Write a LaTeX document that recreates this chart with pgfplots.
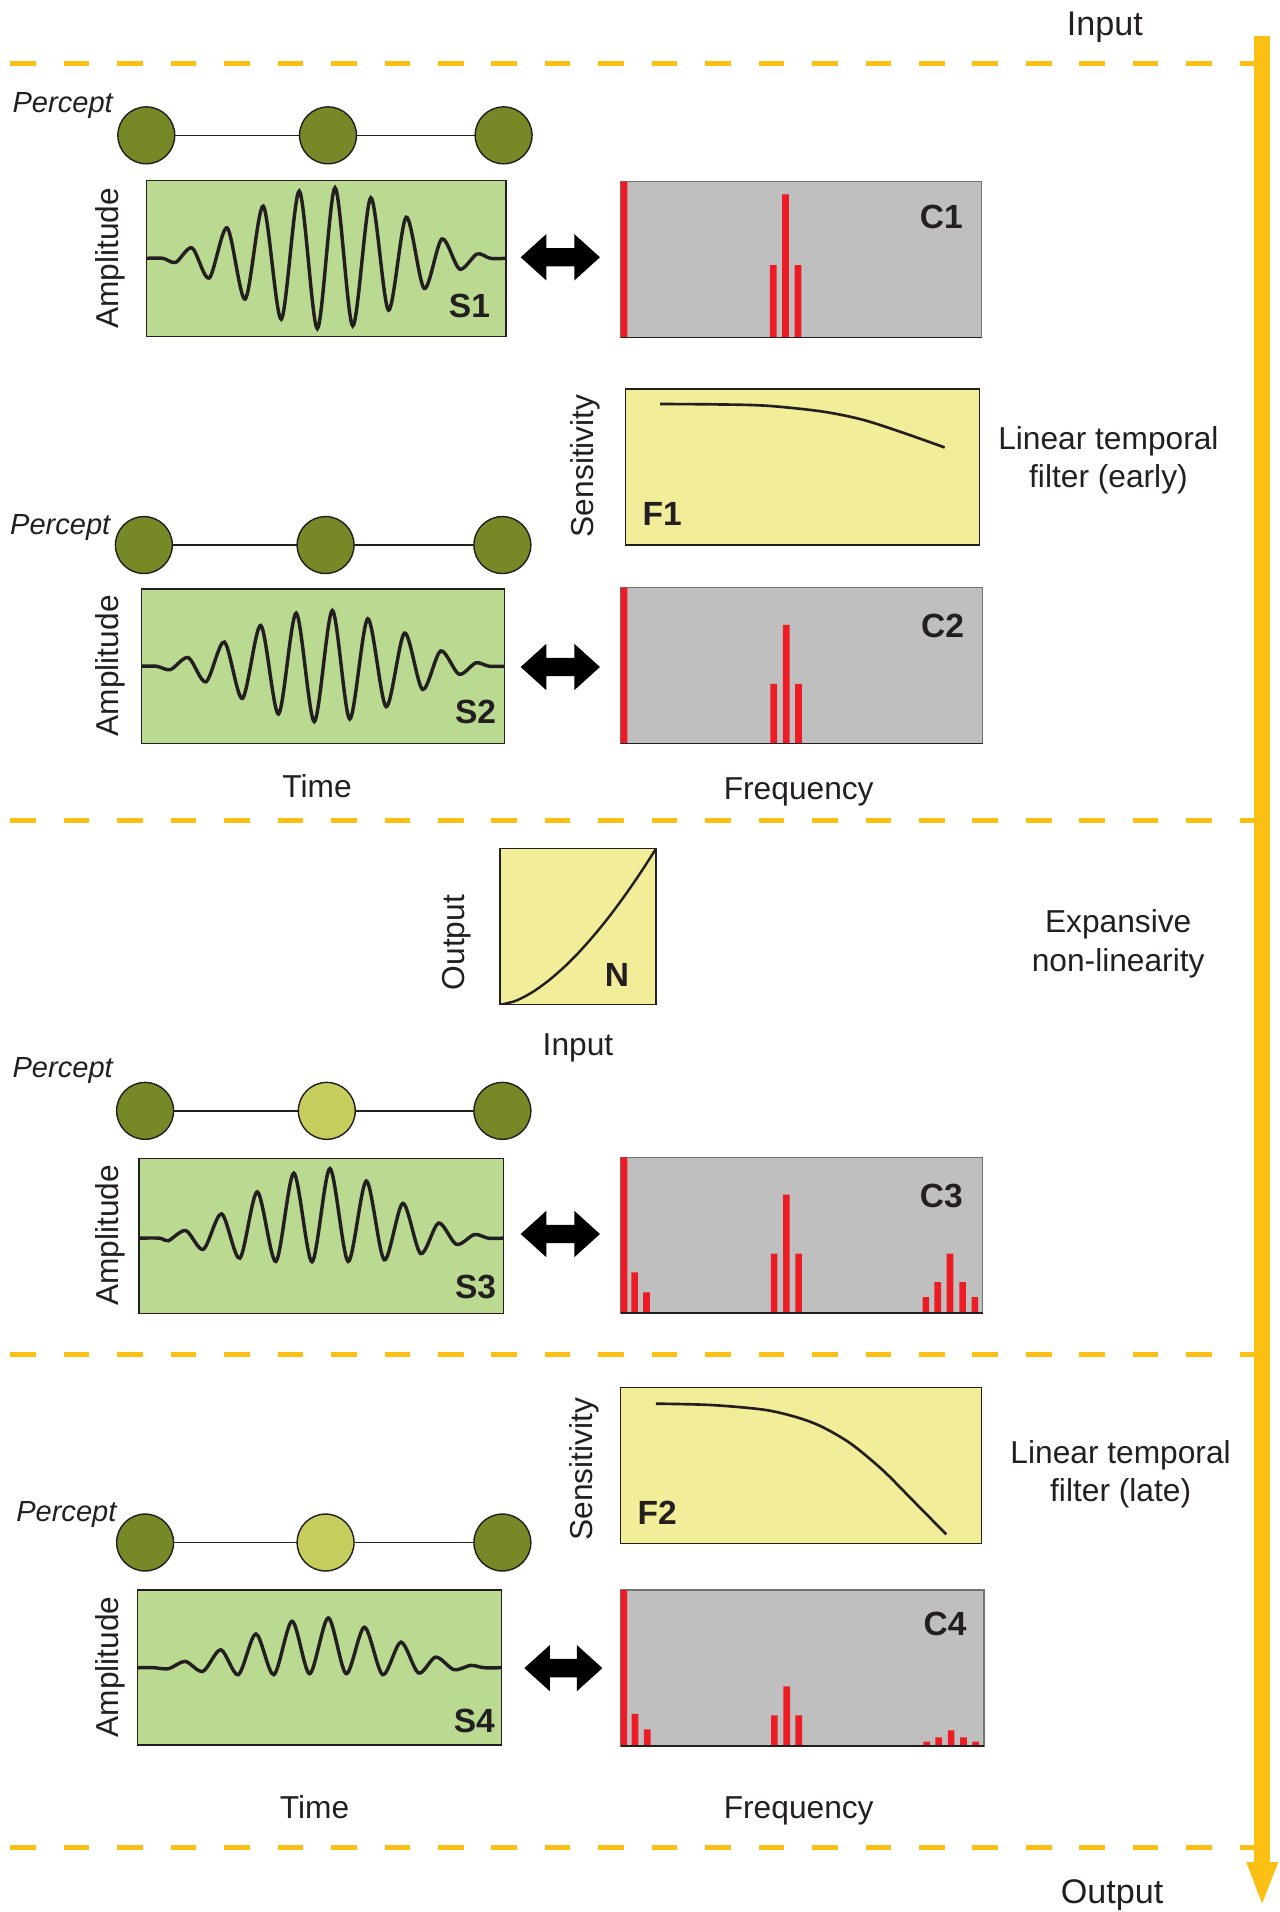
\documentclass[border=0pt]{standalone}
\usepackage{pgfplots}
\pgfplotsset{compat=1.18}
\usepackage{fontspec}
\setmainfont{Liberation Sans}
\definecolor{arrowyellow}{RGB}{252,191,19}
\definecolor{greenbox}{RGB}{186,218,145}
\definecolor{graybox}{RGB}{191,191,191}
\definecolor{yellowbox}{RGB}{242,237,153}
\definecolor{barred}{RGB}{237,28,36}
\definecolor{olive}{RGB}{118,137,38}
\definecolor{lightolive}{RGB}{197,205,93}
\definecolor{textcol}{RGB}{35,31,32}
\newcommand\lab{\fontsize{15.6}{18}\selectfont}
\newcommand\iolab{\fontsize{16.8}{20}\selectfont}
\newcommand\pclab{\fontsize{14.3}{17}\selectfont\itshape}
\newcommand\bllab{\fontsize{16.5}{19}\selectfont\bfseries}
\pgfplotsset{panel/.style={anchor=north west, scale only axis, xtick=\empty, ytick=\empty,
  axis line style={draw=textcol, line width=0.6pt}}}
\begin{document}
\begin{tikzpicture}[x=0.6pt,y=-0.6pt]
\useasboundingbox (0,0) rectangle (1049,1568);
\coordinate (O) at (0,0);
% ---------- canvas axis: guides, arrows, percepts ----------
\begin{axis}[at={(O)}, anchor=north west, scale only axis, width=629.4pt, height=940.8pt,
  xmin=0, xmax=1049, ymin=-1568, ymax=0, axis line style={draw=none}, xtick=\empty, ytick=\empty, clip=false]
\addplot[arrowyellow, line width=2.7pt, dash pattern=on 12.6pt off 13.7pt] coordinates {(8.5,-52) (1030,-52)};
\addplot[arrowyellow, line width=2.7pt, dash pattern=on 12.6pt off 13.7pt] coordinates {(8.5,-673) (1030,-673)};
\addplot[arrowyellow, line width=2.7pt, dash pattern=on 12.6pt off 13.7pt] coordinates {(8.5,-1111) (1030,-1111)};
\addplot[arrowyellow, line width=2.7pt, dash pattern=on 12.6pt off 13.7pt] coordinates {(8.5,-1515) (1030,-1515)};
\addplot[arrowyellow, line width=7.9pt] coordinates {(1035,-29.5) (1035,-1530)};
\addplot[fill=arrowyellow, draw=none] coordinates {(1022,-1527) (1048.4,-1527) (1035,-1561)} --cycle;
% percept rows
\addplot[textcol, line width=0.7pt] coordinates {(120,-111) (413,-111)};
\addplot[only marks, mark=*, mark size=14pt, mark options={fill=olive, draw=textcol, line width=0.7pt}] coordinates {(120,-111) (269,-111) (413,-111)};
\addplot[textcol, line width=0.7pt] coordinates {(118,-447) (412,-447)};
\addplot[only marks, mark=*, mark size=14pt, mark options={fill=olive, draw=textcol, line width=0.7pt}] coordinates {(118,-447) (267,-447) (412,-447)};
\addplot[textcol, line width=0.7pt] coordinates {(119,-911) (412,-911)};
\addplot[only marks, mark=*, mark size=14pt, mark options={fill=olive, draw=textcol, line width=0.7pt}] coordinates {(119,-911) (412,-911)};
\addplot[only marks, mark=*, mark size=14pt, mark options={fill=lightolive, draw=textcol, line width=0.7pt}] coordinates {(268,-911)};
\addplot[textcol, line width=0.7pt] coordinates {(119,-1265) (412,-1265)};
\addplot[only marks, mark=*, mark size=14pt, mark options={fill=olive, draw=textcol, line width=0.7pt}] coordinates {(119,-1265) (412,-1265)};
\addplot[only marks, mark=*, mark size=14pt, mark options={fill=lightolive, draw=textcol, line width=0.7pt}] coordinates {(267,-1265)};
% double arrows
\addplot[fill=black, draw=none] coordinates {(427,-211) (448,-192) (448,-203.5) (471,-203.5) (471,-192) (492,-211) (471,-230) (471,-218.5) (448,-218.5) (448,-230)} --cycle;
\addplot[fill=black, draw=none] coordinates {(427,-547) (448,-528) (448,-539.5) (471,-539.5) (471,-528) (492,-547) (471,-566) (471,-554.5) (448,-554.5) (448,-566)} --cycle;
\addplot[fill=black, draw=none] coordinates {(427,-1012) (448,-993) (448,-1004.5) (471,-1004.5) (471,-993) (492,-1012) (471,-1031) (471,-1019.5) (448,-1019.5) (448,-1031)} --cycle;
\addplot[fill=black, draw=none] coordinates {(430,-1368) (451,-1349) (451,-1360.5) (473,-1360.5) (473,-1349) (494,-1368) (473,-1387) (473,-1375.5) (451,-1375.5) (451,-1387)} --cycle;
\end{axis}
% ---------- signal panels ----------
\coordinate (pS1) at (120,148);
\begin{axis}[panel, at={(pS1)}, width=177pt, height=76.8pt, axis background/.style={fill=greenbox},
  xmin=20, xmax=1097, ymin=-497, ymax=-30]
\addplot[smooth, textcol, line width=1.7pt] coordinates {(20,-263) (70,-263) (108,-275) (157,-232) (208,-322) (262,-172) (316,-385) (370,-107) (424,-445) (478,-62) (532,-473) (585,-52) (638,-465) (692,-82) (745,-418) (798,-140) (852,-353) (905,-205) (958,-295) (1010,-250) (1050,-263) (1097,-263)};
\end{axis}
\coordinate (pS2) at (116,483);
\begin{axis}[panel, at={(pS2)}, width=178.8pt, height=76.2pt, axis background/.style={fill=greenbox},
  xmin=35, xmax=1122, ymin=-522, ymax=-55]
\addplot[smooth, textcol, line width=1.7pt] coordinates {(35,-288) (80,-288) (122,-298) (175,-262) (228,-335) (283,-215) (337,-385) (392,-165) (445,-432) (498,-128) (552,-455) (606,-120) (658,-447) (712,-145) (767,-410) (822,-188) (876,-358) (930,-242) (985,-312) (1035,-278) (1075,-288) (1122,-288)};
\end{axis}
\coordinate (pS3) at (114,950);
\begin{axis}[panel, at={(pS3)}, width=179.4pt, height=76.2pt, axis background/.style={fill=greenbox},
  xmin=405, xmax=1465, ymin=-825, ymax=-353]
\addplot[smooth, textcol, line width=1.7pt] coordinates {(405,-596) (465,-596) (490,-604) (541,-573) (592,-630) (645,-522) (698,-657) (749,-455) (803,-667) (855,-398) (908,-668) (960,-384) (1013,-667) (1066,-422) (1118,-662) (1172,-490) (1224,-643) (1276,-550) (1328,-615) (1380,-585) (1420,-596) (1465,-596)};
\end{axis}
\coordinate (pS4) at (113,1304);
\begin{axis}[panel, at={(pS4)}, width=178.8pt, height=76.2pt, axis background/.style={fill=greenbox},
  xmin=22, xmax=1117, ymin=-495, ymax=-28]
\addplot[smooth, textcol, line width=1.7pt] coordinates {(22,-262) (70,-262) (115,-265) (165,-243) (218,-273) (272,-208) (325,-283) (378,-160) (432,-283) (487,-122) (540,-280) (596,-112) (650,-280) (705,-140) (760,-283) (815,-185) (868,-278) (920,-230) (975,-268) (1025,-255) (1065,-262) (1117,-262)};
\end{axis}
% ---------- spectra ----------
\coordinate (pC1) at (509,149);
\begin{axis}[panel, at={(pC1)}, width=177.6pt, height=76.8pt, axis background/.style={fill=graybox},
  axis line style={draw=black!55, line width=0.6pt},
  xmin=33, xmax=1112, ymin=0, ymax=468, ybar, bar width=20, bar shift=0pt]
\addplot[fill=barred, draw=none] coordinates {(43,468) (489,218) (526,430) (563,218)};
\draw[textcol, line width=1pt] (rel axis cs:0,0) -- (rel axis cs:1,0);
\end{axis}
\coordinate (pC2) at (509,482);
\begin{axis}[panel, at={(pC2)}, width=178.2pt, height=76.8pt, axis background/.style={fill=graybox},
  axis line style={draw=black!55, line width=0.6pt},
  xmin=33, xmax=1112, ymin=0, ymax=468, ybar, bar width=20, bar shift=0pt]
\addplot[fill=barred, draw=none] coordinates {(43,468) (489,180) (526,357) (563,180)};
\draw[textcol, line width=1pt] (rel axis cs:0,0) -- (rel axis cs:1,0);
\end{axis}
\coordinate (pC3) at (509,949);
\begin{axis}[panel, at={(pC3)}, width=178.2pt, height=76.8pt, axis background/.style={fill=graybox},
  axis line style={draw=black!55, line width=0.6pt},
  xmin=25, xmax=1118, ymin=0, ymax=470, ybar, bar width=20, bar shift=0pt]
\addplot[fill=barred, draw=none] coordinates {(35,470) (67,123) (103,63) (488,180) (525,357) (562,180) (946,49) (982,94) (1019,180) (1057,94) (1094,49)};
\draw[textcol, line width=1pt] (rel axis cs:0,0) -- (rel axis cs:1,0);
\end{axis}
\coordinate (pC4) at (509,1304);
\begin{axis}[panel, at={(pC4)}, width=178.8pt, height=76.8pt, axis background/.style={fill=graybox},
  axis line style={draw=black!55, line width=0.6pt},
  xmin=63, xmax=1155, ymin=0, ymax=467, ybar, bar width=20, bar shift=0pt]
\addplot[fill=barred, draw=none] coordinates {(72,467) (106,97) (143,50) (525,92) (562,179) (598,92) (983,14) (1019,26) (1056,47) (1093,26) (1130,14)};
\draw[textcol, line width=1pt] (rel axis cs:0,0) -- (rel axis cs:1,0);
\end{axis}
% ---------- filters and nonlinearity ----------
\coordinate (pF1) at (513,319);
\begin{axis}[panel, at={(pF1)}, width=174pt, height=76.8pt, axis background/.style={fill=yellowbox},
  xmin=145, xmax=913, ymin=-495, ymax=-28]
\addplot[smooth, textcol, line width=1.3pt] coordinates {(220,-73) (335,-74) (450,-78) (570,-95) (660,-120) (750,-160) (838,-203)};
\end{axis}
\coordinate (pF2) at (509,1138);
\begin{axis}[panel, at={(pF2)}, width=177.6pt, height=76.8pt, axis background/.style={fill=yellowbox},
  xmin=133, xmax=920, ymin=-490, ymax=-22]
\addplot[smooth, textcol, line width=1.3pt] coordinates {(210,-70) (330,-74) (445,-88) (515,-110) (570,-138) (635,-190) (705,-270) (770,-360) (843,-462)};
\end{axis}
\coordinate (pN) at (410,696);
\begin{axis}[panel, at={(pN)}, width=76.8pt, height=76.8pt, axis background/.style={fill=yellowbox},
  xmin=0, xmax=1, ymin=0, ymax=1]
\addplot[smooth, textcol, line width=1.2pt] coordinates {(0,0) (0.1,0.025) (0.2,0.076) (0.3,0.146) (0.4,0.231) (0.5,0.33) (0.6,0.442) (0.7,0.565) (0.8,0.70) (0.9,0.845) (1,1)};
\end{axis}
% ---------- text ----------
\begin{scope}[every node/.style={text=textcol, inner sep=0pt}]
\node[anchor=base, font=\iolab] at (906,29.5) {Input};
\node[anchor=base, font=\iolab] at (912,1561) {Output};
\node[anchor=base west, font=\pclab] at (10,92.5) {Percept};
\node[anchor=base west, font=\pclab] at (8,438.5) {Percept};
\node[anchor=base west, font=\pclab] at (10,884) {Percept};
\node[anchor=base west, font=\pclab] at (13,1247.5) {Percept};
\node[anchor=base, rotate=90, font=\lab] at (97,212) {Amplitude};
\node[anchor=base, rotate=90, font=\lab] at (97,546) {Amplitude};
\node[anchor=base, rotate=90, font=\lab] at (97,1013) {Amplitude};
\node[anchor=base, rotate=90, font=\lab] at (97,1367) {Amplitude};
\node[anchor=base, rotate=90, font=\lab] at (487,382) {Sensitivity};
\node[anchor=base, rotate=90, font=\lab] at (486,1205) {Sensitivity};
\node[anchor=base, rotate=90, font=\lab] at (381,773) {Output};
\node[anchor=base, font=\lab] at (474,866) {Input};
\node[anchor=base, font=\lab] at (260,654) {Time};
\node[anchor=base, font=\lab] at (655,656) {Frequency};
\node[anchor=base, font=\lab] at (258,1491) {Time};
\node[anchor=base, font=\lab] at (655,1491) {Frequency};
\node[anchor=base, font=\lab] at (909,369) {Linear temporal};
\node[anchor=base, font=\lab] at (909,400) {filter (early)};
\node[anchor=base, font=\lab] at (917,765) {Expansive};
\node[anchor=base, font=\lab] at (917,797) {non-linearity};
\node[anchor=base, font=\lab] at (919,1200) {Linear temporal};
\node[anchor=base, font=\lab] at (919,1231) {filter (late)};
\node[anchor=base, font=\bllab] at (385,260) {S1};
\node[anchor=base, font=\bllab] at (772,187) {C1};
\node[anchor=base, font=\bllab] at (543,431) {F1};
\node[anchor=base, font=\bllab] at (390,593) {S2};
\node[anchor=base, font=\bllab] at (773,523) {C2};
\node[anchor=base, font=\bllab] at (506,809) {N};
\node[anchor=base, font=\bllab] at (390,1065) {S3};
\node[anchor=base, font=\bllab] at (772,990) {C3};
\node[anchor=base, font=\bllab] at (539,1250) {F2};
\node[anchor=base, font=\bllab] at (389,1421) {S4};
\node[anchor=base, font=\bllab] at (775,1341) {C4};
\end{scope}
\end{tikzpicture}
\end{document}
